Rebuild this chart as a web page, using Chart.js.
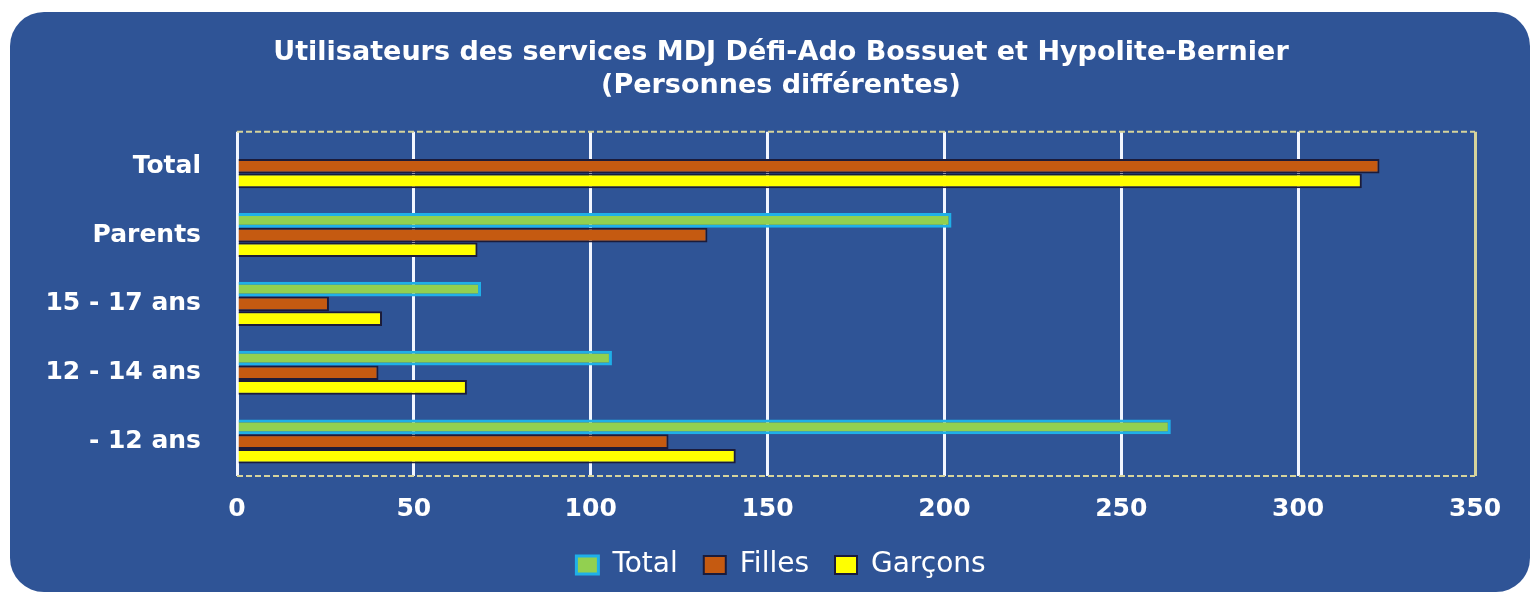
<!DOCTYPE html>
<html lang="fr">
<head>
<meta charset="utf-8">
<title>Utilisateurs des services MDJ</title>
<script src="https://cdn.jsdelivr.net/npm/chart.js@4"></script>
<style>
    html, body { margin: 0; padding: 0; background: #ffffff; }
    #card {
        position: absolute;
        left: 10px; top: 12px;
        width: 1520px; height: 580px;
        background: #2F5496;
        border-radius: 34px;
        overflow: hidden;
    }
    #card canvas { display: block; }
</style>
</head>
<body>
<div id="card"><canvas id="usersChart" width="1520" height="580"></canvas></div>
<script>
// categories, top to bottom
const categories = ['Total', 'Parents', '15 - 17 ans', '12 - 14 ans', '- 12 ans'];
// series (the Total bar of the Total row is not drawn)
const totalValues = [null, 202, 69, 106, 264];
const fillesValues = [323, 133, 26, 40, 122];
const garconsValues = [318, 68, 41, 65, 141];
// x axis ticks
const tickValues = [0, 50, 100, 150, 200, 250, 300, 350];

const white = '#FFFFFF';
const frameColor = '#D6D49C';

// dashed top and bottom edges of the plot frame
const dashedFrame = {
    id: 'dashedFrame',
    beforeDatasetsDraw(chart) {
        const { ctx, chartArea: a } = chart;
        ctx.save();
        ctx.strokeStyle = frameColor;
        ctx.lineWidth = 2;
        ctx.setLineDash([6, 3]);
        ctx.beginPath();
        ctx.moveTo(a.left, a.top);
        ctx.lineTo(a.right, a.top);
        ctx.moveTo(a.left, a.bottom);
        ctx.lineTo(a.right, a.bottom);
        ctx.stroke();
        ctx.restore();
    }
};

document.addEventListener('DOMContentLoaded', () => {
    const ctx = document.getElementById('usersChart').getContext('2d');
    new Chart(ctx, {
        type: 'bar',
        data: {
            labels: categories,
            datasets: [
                {
                    label: 'Total',
                    data: totalValues,
                    backgroundColor: '#92D050',
                    borderColor: '#1FB0E8',
                    borderWidth: 3
                },
                {
                    label: 'Filles',
                    data: fillesValues,
                    backgroundColor: '#C55A11',
                    borderColor: '#1B1B3A',
                    borderWidth: 2
                },
                {
                    label: 'Garçons',
                    data: garconsValues,
                    backgroundColor: '#FFFF00',
                    borderColor: '#1B1B3A',
                    borderWidth: 2
                }
            ]
        },
        plugins: [dashedFrame],
        options: {
            indexAxis: 'y',
            responsive: false,
            animation: false,
            categoryPercentage: 0.64,
            barPercentage: 1.0,
            layout: { padding: { top: 25, left: 30, right: 8, bottom: 3 } },
            plugins: {
                title: {
                    display: true,
                    text: ['Utilisateurs des services MDJ Défi-Ado Bossuet et Hypolite-Bernier', '(Personnes différentes)'],
                    color: white,
                    font: { family: 'DejaVu Sans', weight: 'bold', size: 27, lineHeight: 1.2 },
                    padding: { top: 0, bottom: 30 }
                },
                legend: {
                    position: 'bottom',
                    labels: {
                        color: white,
                        font: { family: 'DejaVu Sans', size: 28 },
                        boxWidth: 22,
                        boxHeight: 18,
                        padding: 26
                    }
                },
                tooltip: { enabled: false }
            },
            scales: {
                x: {
                    min: 0,
                    max: 350,
                    afterBuildTicks: axis => { axis.ticks = tickValues.map(v => ({ value: v })); },
                    afterFit: axis => { axis.height = 49; },
                    grid: {
                        drawTicks: false,
                        lineWidth: 3,
                        color: c => (c.tick && c.tick.value === 350) ? frameColor : '#F2F6FF'
                    },
                    border: { display: false },
                    ticks: {
                        color: white,
                        padding: 18,
                        font: { family: 'DejaVu Sans', weight: 'bold', size: 25 }
                    }
                },
                y: {
                    afterFit: axis => { axis.width = 197; },
                    grid: { display: false, drawTicks: false },
                    border: { display: false },
                    ticks: {
                        color: white,
                        padding: 36,
                        font: { family: 'DejaVu Sans', weight: 'bold', size: 25 }
                    }
                },
                // empty right-hand axis: keeps the plot where it is while centring title and legend
                yRight: {
                    type: 'category',
                    position: 'right',
                    afterFit: axis => { axis.width = 47; },
                    grid: { display: false, drawTicks: false },
                    border: { display: false },
                    ticks: { display: false }
                }
            }
        }
    });
});
</script>
</body>
</html>
